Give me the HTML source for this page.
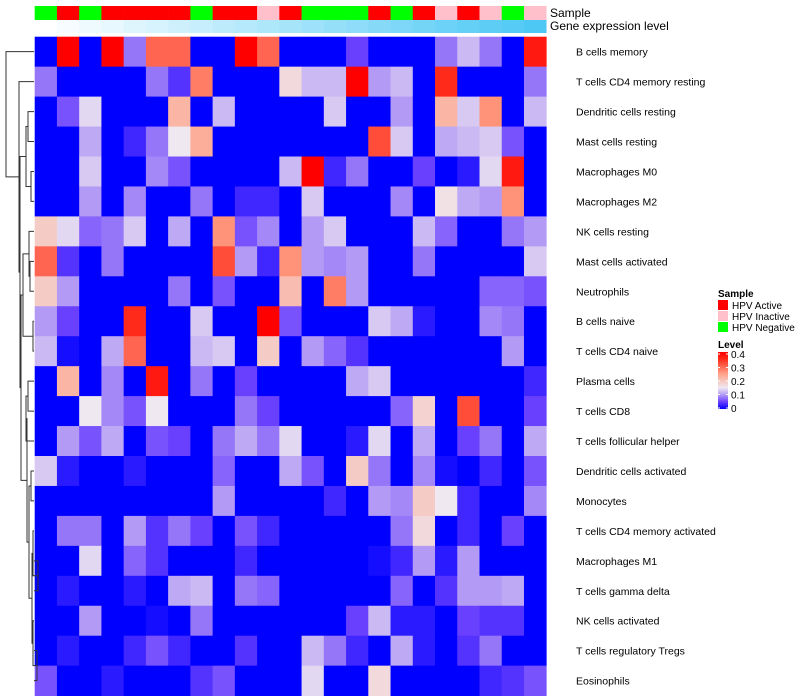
<!DOCTYPE html>
<html><head><meta charset="utf-8"><style>
body{margin:0;background:#fff;}
svg{display:block;font-family:"Liberation Sans",Arial,sans-serif;}
</style></head><body>
<svg id="chart" width="800" height="700" xmlns="http://www.w3.org/2000/svg"></svg>
<script>
const rowLabels=["B cells memory","T cells CD4 memory resting","Dendritic cells resting","Mast cells resting","Macrophages M0","Macrophages M2","NK cells resting","Mast cells activated","Neutrophils","B cells naive","T cells CD4 naive","Plasma cells","T cells CD8","T cells follicular helper","Dendritic cells activated","Monocytes","T cells CD4 memory activated","Macrophages M1","T cells gamma delta","NK cells activated","T cells regulatory  Tregs","Eosinophils"];
const sampleGroups=["N","A","N","A","A","A","A","N","A","A","I","A","N","N","N","A","N","A","I","A","I","N","I"];
const geneLevel=[0,1,2,3,4,5,6,7,8,9,10,11,12,13,14,15,16,17,18,19,20,21,22];
const v0=[0,.4,0,.4,.08,.3,.3,0,0,.4,.3,0,0,0,.05,0,0,0,.08,.12,.08,0,.37];
const v1=[.08,0,0,0,0,.08,.04,.28,0,0,0,.17,.12,.12,.4,.1,.12,0,.35,0,0,0,.08];
const v2=[0,.06,.14,0,0,0,.22,0,.12,0,0,0,0,.13,0,0,.1,0,.22,.13,.26,0,.12];
const v3=[0,0,.11,0,.03,.08,.15,.23,0,0,0,0,0,0,0,.32,.13,0,.11,.12,.13,.06,0];
const v4=[0,0,.13,0,0,.09,.06,0,0,0,0,.12,.4,.03,.08,0,0,.05,0,.02,.14,.37,0];
const v5=[0,0,.1,0,.09,0,0,.08,0,.03,.03,0,.13,0,0,0,.09,0,.16,.11,.1,.26,0];
const v6=[.19,.14,.07,.08,.13,0,.11,0,.26,.06,.09,0,.1,.13,0,0,0,.12,.07,0,0,.08,.1];
const v7=[.3,.04,0,.08,0,0,0,0,.32,.1,.03,.26,.1,.09,.1,0,0,.08,0,0,0,0,.13];
const v8=[.19,.1,0,0,0,0,.08,0,.06,0,0,.21,0,.28,.1,0,0,0,0,0,.07,.07,.06];
const v9=[.1,.05,0,0,.35,0,0,.13,0,0,.4,.06,0,0,0,.13,.11,.02,0,0,.09,.08,0];
const v10=[.12,.01,0,.11,.3,0,0,.12,.13,0,.19,0,.1,.07,.04,0,0,0,0,0,0,.1,0];
const v11=[0,.22,0,.09,0,.37,0,.08,0,.05,0,0,0,0,.11,.13,0,0,0,0,0,0,.03];
const v12=[0,0,.15,.09,.06,.15,0,0,0,.08,.05,0,0,0,0,0,.07,.18,0,.32,0,0,.05];
const v13=[0,.1,.06,.11,0,.06,.05,0,.08,.11,.08,.14,0,0,.02,.14,0,.11,0,.05,.08,0,.11];
const v14=[.13,.02,0,0,.02,0,0,0,.07,0,0,.11,.06,0,.19,.08,0,.09,.01,0,.03,0,.06];
const v15=[0,0,0,0,0,0,0,0,.1,0,0,0,0,.03,0,.1,.09,.19,.15,.03,0,0,.09];
const v16=[0,.08,.08,0,.1,.04,.08,.05,0,.06,.03,0,0,0,0,0,.08,.17,0,.03,0,.05,0];
const v17=[0,0,.14,0,.07,.04,0,0,0,.03,0,0,0,0,0,.01,.03,.1,.02,.1,0,0,0];
const v18=[0,.02,0,0,.02,0,.11,.12,0,.08,.07,0,0,0,0,0,.07,0,.04,.1,.1,.11,0];
const v19=[0,0,.1,0,0,.01,0,.08,0,0,0,0,0,0,.05,.12,.02,.02,0,.05,.04,.04,0];
const v20=[0,.02,0,0,.03,.06,.03,0,0,.04,0,0,.12,.08,.03,0,.11,.02,0,.04,.08,0,0];
const v21=[.06,0,0,.02,0,0,0,.04,.06,0,0,0,.14,0,0,.17,0,0,0,0,.03,.04,.06];
const values=[v0,v1,v2,v3,v4,v5,v6,v7,v8,v9,v10,v11,v12,v13,v14,v15,v16,v17,v18,v19,v20,v21];
const legendTicks=[0,0.1,0.2,0.3,0.4];

const NS="http://www.w3.org/2000/svg";
const svg=document.getElementById('chart');
const X0=34.7,CW=22.24,Y0=36.7,RH=29.95;
const xPos=i=>X0+i*CW, yPos=r=>Y0+r*RH;
const stops=[[0,[0,0,255]],[0.05,[106,64,255]],[0.1,[178,154,245]],[0.15,[239,232,240]],[0.25,[255,159,133]],[0.35,[255,42,26]],[0.4,[255,0,0]]];
function col(v){v=Math.max(0,Math.min(0.4,v));for(let i=1;i<stops.length;i++){if(v<=stops[i][0]){const a=stops[i-1],b=stops[i],t=(v-a[0])/(b[0]-a[0]);const c=a[1].map((x,k)=>Math.round(x+(b[1][k]-x)*t));return 'rgb('+c.join(',')+')';}}return 'rgb(255,0,0)';}
function el(tag,attrs,parent){const e=document.createElementNS(NS,tag);for(const k in attrs)e.setAttribute(k,attrs[k]);(parent||svg).appendChild(e);return e;}
const sampleColor={A:'#ff0000',I:'#ffc0cb',N:'#00ff00'};
sampleGroups.forEach((g,i)=>{const r=el('rect',{x:xPos(i),y:6,width:CW+0.3,height:14,fill:sampleColor[g]});

});
geneLevel.forEach((g,i)=>{const t=g/22;const c=[255+(77-255)*t,255+(200-255)*t,255+(245-255)*t].map(Math.round);
const r=el('rect',{x:xPos(i),y:20,width:CW+0.3,height:13,fill:'rgb('+c.join(',')+')'});

});
values.forEach((row,ri)=>row.forEach((v,c)=>{const e=el('rect',{x:xPos(c),y:yPos(ri),width:CW+0.4,height:RH+0.4,fill:col(v)});

}));
const t1=el('text',{x:550,y:17,'font-size':12});t1.textContent='Sample';


const t2=el('text',{x:550,y:30,'font-size':12});t2.textContent='Gene expression level';


rowLabels.forEach((l,ri)=>{const t=el('text',{x:576,y:yPos(ri)+RH/2+4,'font-size':10.5});t.textContent=l;

});
// dendrogram
const cy=r=>yPos(r)+RH/2;
function node(a,b,h){return{a:a,b:b,h:h};}
function L(r){return{leaf:r};}
const C=node(node(L(2),L(3),28),node(L(4),L(5),31),26);
const E=node(node(L(6),node(L(7),L(8),30),29),node(L(9),L(10),33),23);
const F1=node(node(L(11),L(12),28),L(13),26);
const F2=node(node(L(14),L(15),31),node(node(L(16),node(L(17),L(18),38),33),node(L(19),node(L(20),L(21),37),33),32),29);
const F=node(F1,F2,27);
const D=node(E,F,21);
const B=node(C,D,20);
const A=node(L(1),B,19);
const tree=node(L(0),A,6);
const dg=el('g',{stroke:'#333','stroke-width':1,fill:'none'});


function draw(n){if(n.leaf!==undefined)return{y:cy(n.leaf),x:34};const P=draw(n.a),Q=draw(n.b);
el('path',{d:'M'+P.x+','+P.y+'H'+n.h+'V'+Q.y+'H'+Q.x},dg);return{y:(P.y+Q.y)/2,x:n.h};}
draw(tree);
// legend
const lg=el('g',{});


const st=el('text',{x:718,y:297,'font-size':10,'font-weight':'bold'},lg);st.textContent='Sample';
[['HPV Active','A'],['HPV Inactive','I'],['HPV Negative','N']].forEach((p,i)=>{
const r=el('rect',{x:718,y:300+i*11,width:10,height:10,fill:sampleColor[p[1]]},lg);


const t=el('text',{x:732,y:309+i*11,'font-size':10},lg);t.textContent=p[0];

});
const lt=el('text',{x:718,y:348,'font-size':10,'font-weight':'bold'},lg);lt.textContent='Level';
const defs=el('defs',{});const grad=el('linearGradient',{id:'lvl',x1:0,y1:1,x2:0,y2:0},defs);
stops.forEach(s=>el('stop',{offset:s[0]/0.4,'stop-color':col(s[0])},grad));
const cb=el('rect',{x:718,y:352,width:10,height:57,fill:'url(#lvl)'},lg);


legendTicks.forEach(v=>{const y=408-v/0.4*54;
el('line',{x1:718,x2:720,y1:y,y2:y,stroke:'#fff'},lg);el('line',{x1:726,x2:728,y1:y,y2:y,stroke:'#fff'},lg);
const t=el('text',{x:731,y:y+4,'font-size':10},lg);t.textContent=String(v);

});
</script>
</body></html>
